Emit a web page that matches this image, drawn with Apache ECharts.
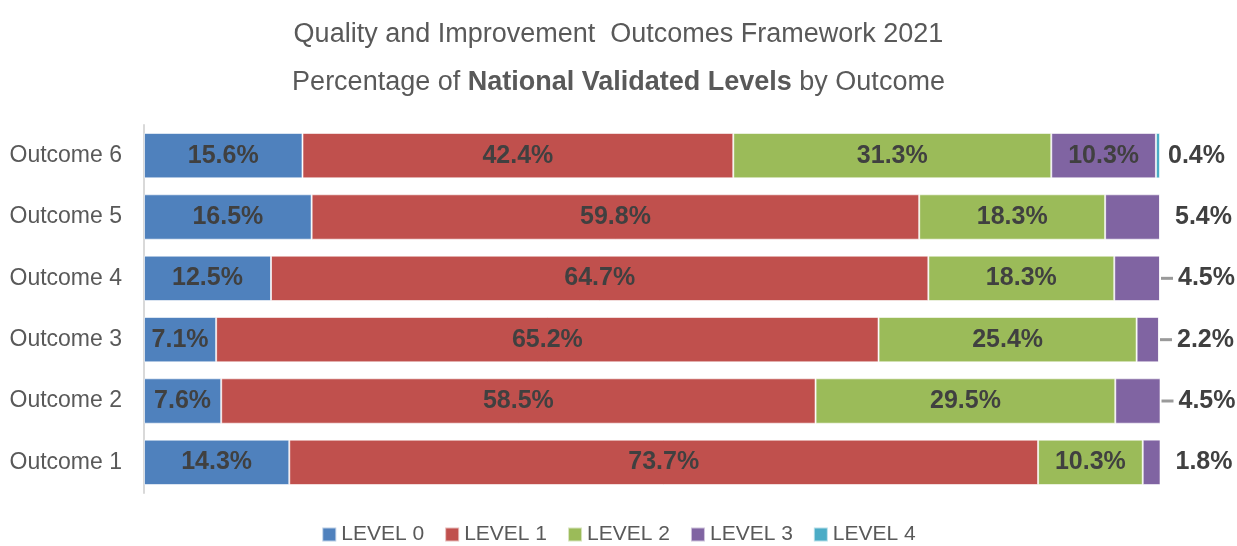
<!DOCTYPE html>
<html>
<head>
<meta charset="utf-8">
<script src="https://cdn.jsdelivr.net/npm/echarts@6/dist/echarts.min.js"></script>
<style>
  html, body { margin: 0; padding: 0; background: #fff; }
  #chart { width: 1237px; height: 546px; }
</style>
</head>
<body>
<div id="chart"></div>
<script>
// 数据
const outcomes = ['Outcome 1', 'Outcome 2', 'Outcome 3', 'Outcome 4', 'Outcome 5', 'Outcome 6']
const levelNames = ['LEVEL 0', 'LEVEL 1', 'LEVEL 2', 'LEVEL 3', 'LEVEL 4']
const level0 = [14.3, 7.6, 7.1, 12.5, 16.5, 15.6]
const level1 = [73.7, 58.5, 65.2, 64.7, 59.8, 42.4]
const level2 = [10.3, 29.5, 25.4, 18.3, 18.3, 31.3]
const level3 = [1.8, 4.5, 2.2, 4.5, 5.4, 10.3]
const level4 = [0, 0, 0, 0, 0, 0.4]
// 哪些外侧标签带引导线
const leader = [false, true, true, true, false, false]

const colors = ['#4F81BD', '#C0504D', '#9BBB59', '#8064A2', '#4BACC6']
const FONT = '"Liberation Sans", Arial, sans-serif'

let chart = echarts.init(document.getElementById('chart'))

const insideLabel = {
    show: true,
    position: 'inside',
    color: '#404040',
    fontFamily: FONT,
    fontWeight: 'bold',
    fontSize: 25,
    formatter: p => p.value > 0 ? p.value.toFixed(1) + '%' : ''
}

const outsideLabel = (i) => ({
    show: true,
    position: 'right',
    distance: leader[i] ? 1 : 15,
    formatter: leader[i] ? '{l|}{v|' + level3[i].toFixed(1) + '%}' : '{v|' + level3[i].toFixed(1) + '%}',
    rich: {
        l: {width: 12, height: 3, backgroundColor: '#9a9a9a'},
        v: {color: '#404040', fontFamily: FONT, fontWeight: 'bold', fontSize: 25, padding: [0, 0, 0, leader[i] ? 5 : 0]}
    }
})

const levelData = [level0, level1, level2, level3, level4]

const series = levelData.map((arr, k) => {
    let data = arr.map((v, i) => {
        if (k === 3 && level4[i] === 0) {
            return {value: v, label: outsideLabel(i)}
        }
        if (k === 4) {
            return {
                value: v,
                label: v > 0 ? {
                    show: true, position: 'right', distance: 8,
                    color: '#404040', fontFamily: FONT, fontWeight: 'bold', fontSize: 25,
                    formatter: v.toFixed(1) + '%'
                } : {show: false}
            }
        }
        return v
    })
    return {
        name: levelNames[k],
        type: 'bar',
        stack: 'total',
        barCategoryGap: '26%',
        data: data,
        itemStyle: {color: colors[k], borderColor: 'rgba(255,255,255,0.6)', borderWidth: 1},
        label: insideLabel,
        emphasis: {disabled: true}
    }
})

const option = {
    animation: false,
    title: {
        text: 'Quality and Improvement  Outcomes Framework 2021\n{n|Percentage of }{b|National Validated Levels}{n| by Outcome}',
        left: 'center',
        top: 6,
        textStyle: {
            color: '#595959',
            fontFamily: FONT,
            fontWeight: 'normal',
            fontSize: 27,
            lineHeight: 48,
            rich: {
                n: {color: '#595959', fontFamily: FONT, fontSize: 27, lineHeight: 48},
                b: {color: '#595959', fontFamily: FONT, fontSize: 27, fontWeight: 'bold', lineHeight: 48}
            }
        }
    },
    legend: {
        bottom: -4,
        left: 'center',
        icon: 'rect',
        itemWidth: 14,
        itemHeight: 14,
        itemGap: 20,
        data: levelNames,
        textStyle: {color: '#595959', fontFamily: FONT, fontSize: 21}
    },
    grid: {
        left: 144,
        right: 77,
        top: 125,
        bottom: 53,
        containLabel: false
    },
    xAxis: {
        type: 'value',
        min: 0,
        max: 100,
        show: false
    },
    yAxis: {
        type: 'category',
        data: outcomes,
        axisLine: {show: true, lineStyle: {color: '#d9d9d9', width: 2}},
        axisTick: {show: false},
        axisLabel: {color: '#595959', fontFamily: FONT, fontSize: 23, margin: 22}
    },
    series: series
}
chart.setOption(option)
</script>
</body>
</html>
